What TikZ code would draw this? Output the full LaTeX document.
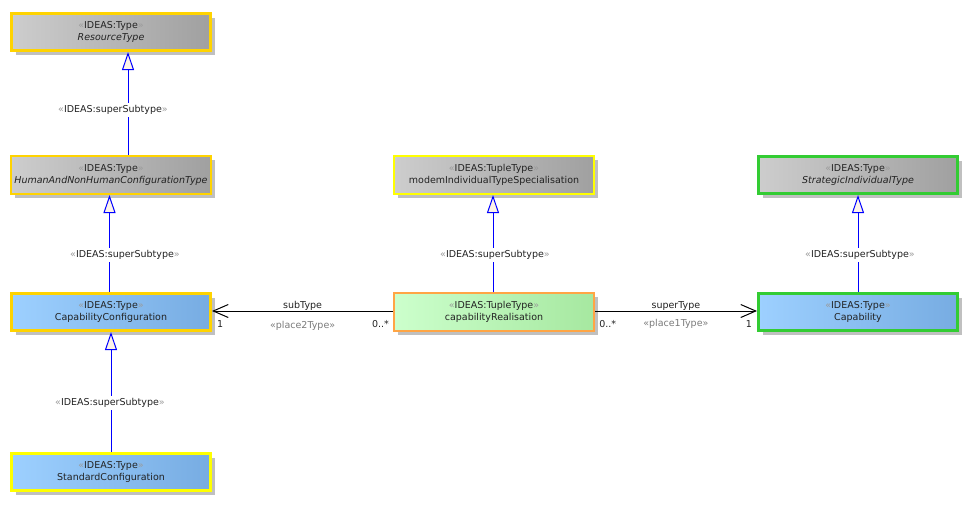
\documentclass[tikz,border=0pt]{standalone}
\usepackage{fontspec}
\setmainfont{DejaVu Sans}
\usetikzlibrary{arrows.meta,shadows}
\definecolor{goldb}{HTML}{FFD300}
\definecolor{yellowb}{HTML}{FFFF00}
\definecolor{orangeb}{HTML}{FFA545}
\definecolor{greenb}{HTML}{33CC33}
\definecolor{grayL}{HTML}{CDCDCD}
\definecolor{grayR}{HTML}{A0A0A0}
\definecolor{blueL}{HTML}{9DD0FF}
\definecolor{blueR}{HTML}{77ACE2}
\definecolor{greenL}{HTML}{CCFFCC}
\definecolor{greenR}{HTML}{A6E8A0}
\definecolor{shadowgray}{HTML}{C0C0C0}
\definecolor{guil}{HTML}{9A9A9A}
\definecolor{txt}{HTML}{222222}
\definecolor{arrowfill}{HTML}{FDF3E7}
\definecolor{genblue}{HTML}{0000FF}
\newcommand{\gq}[1]{{\color{guil}«}#1{\color{guil}»}}
\tikzset{
  umlbox/.style={rectangle, align=center, inner sep=0pt, text=txt,
    font=\fontsize{9.5}{12}\selectfont,
    drop shadow={shadow xshift=4pt, shadow yshift=-4pt, fill=shadowgray, opacity=1}},
  thickb/.style={umlbox, line width=3pt, minimum width=199pt, minimum height=37pt},
  thinb/.style={umlbox, line width=2pt, minimum width=200pt, minimum height=38pt},
  grayfill/.style={left color=grayL, right color=grayR},
  bluefill/.style={left color=blueL, right color=blueR},
  greenfill/.style={left color=greenL, right color=greenR},
  gen/.style={draw=genblue, line width=1pt,
    -{Triangle[length=18pt, width=12pt, fill=arrowfill]}},
  assoc/.style={draw=black, line width=1pt,
    -{Straight Barb[length=15pt, width=13pt, line width=1pt]}},
  lab/.style={font=\fontsize{9.5}{12}\selectfont, text=txt, inner sep=1pt},
  genlab/.style={lab, fill=white, inner xsep=1pt, inner ysep=2pt},
  graylab/.style={lab, text=guil!80!black}
}
\begin{document}
\begin{tikzpicture}[x=1pt, y=-1pt]
\useasboundingbox[fill=white] (0,0) rectangle (970,504);

% boxes
\node[thickb, grayfill, draw=goldb] (res) at (111,32)
  {\gq{IDEAS:Type}\\\textit{ResourceType}};
\node[thinb, grayfill, draw=goldb] (hum) at (111,175)
  {\gq{IDEAS:Type}\\\textit{HumanAndNonHumanConfigurationType}};
\node[thickb, bluefill, draw=goldb] (cc) at (111,312)
  {\gq{IDEAS:Type}\\CapabilityConfiguration};
\node[thickb, bluefill, draw=yellowb] (sc) at (111,472)
  {\gq{IDEAS:Type}\\StandardConfiguration};
\node[thinb, grayfill, draw=yellowb] (mod) at (494,175)
  {\gq{IDEAS:TupleType}\\modemIndividualTypeSpecialisation};
\node[thinb, greenfill, draw=orangeb, line width=1.5pt] (cr) at (494,312)
  {\gq{IDEAS:TupleType}\\capabilityRealisation};
\node[thickb, grayfill, draw=greenb] (sit) at (858,175)
  {\gq{IDEAS:Type}\\\textit{StrategicIndividualType}};
\node[thickb, bluefill, draw=greenb] (cap) at (858,312)
  {\gq{IDEAS:Type}\\Capability};

% generalisations
\draw[gen] ([xshift=17pt]hum.north) -- ([xshift=17pt]res.south);
\draw[gen] ([xshift=-1.5pt]cc.north) -- ([xshift=-1.5pt]hum.south);
\draw[gen] (sc.north) -- (cc.south);
\draw[gen] ([xshift=-1pt]cr.north) -- ([xshift=-1pt]mod.south);
\draw[gen] (cap.north) -- (sit.south);

\node[genlab] (g1) at (113,110) {\gq{IDEAS:superSubtype}};
\node[genlab] (g2) at (125,255) {\gq{IDEAS:superSubtype}};
\node[genlab] (g3) at (110,403) {\gq{IDEAS:superSubtype}};
\node[genlab] (g4) at (495,255) {\gq{IDEAS:superSubtype}};
\node[genlab] (g5) at (860,255) {\gq{IDEAS:superSubtype}};

% associations
\draw[assoc] ([yshift=1pt]cr.west) -- ([yshift=1pt]cc.east)
  node[lab, pos=0.5, above=-1pt] (st) {subType}
  node[graylab, pos=0.5, below=9pt] (p2) {«place2Type»}
  node[lab, pos=0.07, below=8pt] (m1) {0..*}
  node[lab, pos=0.955, below=8pt] (m2) {1};
\draw[assoc] ([yshift=1pt]cr.east) -- ([yshift=1pt]cap.west)
  node[lab, pos=0.5, above=-1pt] (spt) {superType}
  node[graylab, pos=0.5, below=7pt] (p1) {«place1Type»}
  node[lab, pos=0.08, below=8pt] (m3) {0..*}
  node[lab, pos=0.95, below=8pt] (m4) {1};
\end{tikzpicture}
\end{document}
